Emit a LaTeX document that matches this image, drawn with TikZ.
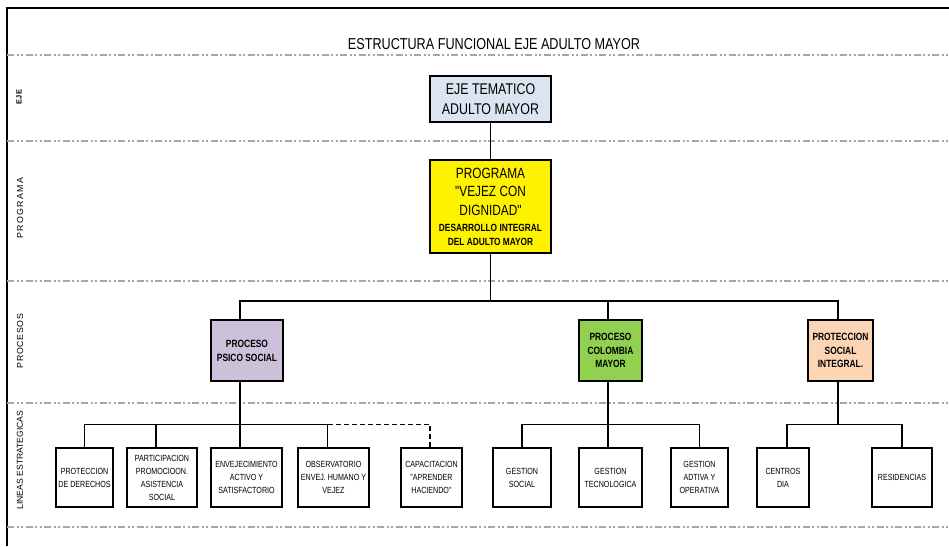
\documentclass[tikz,border=0pt]{standalone}
\usepackage{fontspec}
\setmainfont{Liberation Sans}
\newfontfamily\nar[FakeStretch=0.8]{Liberation Sans}
\newfontfamily\sideA[LetterSpace=15]{Liberation Sans}
\newfontfamily\sideB[LetterSpace=7]{Liberation Sans}
\newcommand\smallbold{\bfseries\fontsize{10.4}{13}\selectfont}
\definecolor{ejeblue}{HTML}{DBE5F1}
\definecolor{psico}{HTML}{CCC0DA}
\definecolor{colgreen}{HTML}{92D050}
\definecolor{peach}{HTML}{FCD5B4}
\definecolor{sepgray}{HTML}{A6A6A6}
\begin{document}
\begin{tikzpicture}[x=1pt,y=-1pt,
  frame/.style={line width=2.2pt},
  sepline/.style={draw=sepgray, line width=1.3pt, dash pattern=on 7pt off 2.5pt on 2pt off 2.5pt on 2pt off 2.5pt},
  box/.style={draw, line width=2.2pt, inner sep=0pt, align=center},
  bigbox/.style={box, line width=2.4pt},
  leaf/.style={box, minimum height=59pt, font=\nar\fontsize{8.9}{13}\selectfont},
  proc/.style={bigbox, minimum height=61pt, font=\nar\bfseries\fontsize{10.5}{13.8}\selectfont},
  conn/.style={line width=1.9pt},
  sidelabel/.style={rotate=90, inner sep=0pt}
]
\useasboundingbox (0,0) rectangle (949,546);
% frame
\draw[frame] (7,546) -- (7,8) -- (949,8);
% separators
\foreach \yy in {55,141,281,403,527} \draw[sepline] (7,\yy) -- (949,\yy);
% title
\node[font=\nar\fontsize{15.8}{17}\selectfont, inner sep=0pt] (title) at (494,44) {ESTRUCTURA FUNCIONAL EJE ADULTO MAYOR};
% side labels
\node[sidelabel, font=\bfseries\fontsize{7.5}{8}\selectfont] (lab1) at (19,97) {EJE};
\node[sidelabel, font=\sideA\fontsize{8.8}{9}\selectfont] (lab2) at (20,208) {PROGRAMA};
\node[sidelabel, font=\sideB\fontsize{8.8}{9}\selectfont] (lab3) at (20,341) {PROCESOS};
\node[sidelabel, font=\fontsize{8.6}{9}\selectfont] (lab4) at (20,460) {LINEAS ESTRATEGICAS};
% top boxes
\node[bigbox, fill=ejeblue, minimum width=121pt, minimum height=46pt, font=\nar\fontsize{15.5}{19.5}\selectfont] (eje) at (490.5,99) {EJE TEMATICO\\ADULTO MAYOR};
\node[bigbox, fill=yellow, minimum width=121pt, minimum height=93pt, font=\nar\fontsize{14.8}{18.5}\selectfont] (prog) at (490.5,206.5) {PROGRAMA\\ "VEJEZ CON\\ DIGNIDAD"\\[-2pt] \smallbold DESARROLLO INTEGRAL\\[-5pt] \smallbold DEL ADULTO MAYOR};
% process boxes
\node[proc, fill=psico, minimum width=72pt] (psico) at (247,350.5) {PROCESO\\PSICO SOCIAL};
\node[proc, fill=colgreen, minimum width=63pt] (col) at (610.5,350.5) {PROCESO\\COLOMBIA\\MAYOR};
\node[proc, fill=peach, minimum width=65pt] (prot) at (840.5,350.5) {PROTECCION\\SOCIAL\\INTEGRAL.};
% leaves
\node[leaf, minimum width=57pt] (l1) at (84.5,477.5) {PROTECCION\\DE DERECHOS};
\node[leaf, minimum width=70pt] (l2) at (162,477.5) {PARTICIPACION\\PROMOCIOON.\\ASISTENCIA\\SOCIAL};
\node[leaf, minimum width=71pt] (l3) at (246.5,477.5) {ENVEJECIMIENTO\\ACTIVO Y\\SATISFACTORIO};
\node[leaf, minimum width=71pt] (l4) at (333.5,477.5) {OBSERVATORIO\\ENVEJ. HUMANO Y\\VEJEZ};
\node[leaf, minimum width=61pt] (l5) at (431.5,477.5) {CAPACITACION\\"APRENDER\\HACIENDO"};
\node[leaf, minimum width=58pt] (g1) at (522,477.5) {GESTION\\SOCIAL};
\node[leaf, minimum width=63pt] (g2) at (610.5,477.5) {GESTION\\TECNOLOGICA};
\node[leaf, minimum width=57pt] (g3) at (699.5,477.5) {GESTION\\ADTIVA Y\\OPERATIVA};
\node[leaf, minimum width=52pt] (c1) at (783,477.5) {CENTROS\\DIA};
\node[leaf, minimum width=60pt] (c2) at (902,477.5) {RESIDENCIAS};
% bus coordinates
\coordinate (bus) at (490.5,301);
\coordinate (pbus) at (240,424.5);
\coordinate (cbus) at (608,424.5);
\coordinate (rbus) at (838,424.5);
% connectors
\draw[conn] (eje.south) -- (prog.north);
\draw[conn] (prog.south) -- (bus);
\draw[conn] ([xshift=-7pt]psico.north) |- (bus) -| ([xshift=-2.5pt]prot.north);
\draw[conn] ([xshift=-2.5pt]col.north) -- ([xshift=-2.5pt]col.north |- bus);
\draw[conn] ([xshift=-7pt]psico.south) -- (pbus);
\draw[conn] (l1.north) |- (pbus) -| ([xshift=-6pt]l4.north);
\draw[conn] ([xshift=-6pt]l2.north) -- ([xshift=-6pt]l2.north |- pbus);
\draw[conn] ([xshift=-6.5pt]l3.north) -- (pbus);
\draw[conn, dash pattern=on 5pt off 3pt] ([xshift=-6pt]l4.north |- pbus) -| ([xshift=-1.5pt]l5.north);
\draw[conn] ([xshift=-2.5pt]col.south) -- (cbus);
\draw[conn] (g1.north) |- (cbus) -| (g3.north);
\draw[conn] ([xshift=-2.5pt]g2.north) -- (cbus);
\draw[conn] ([xshift=-2.5pt]prot.south) -- (rbus);
\draw[conn] ([xshift=4pt]c1.north) |- (rbus) -| (c2.north);
\end{tikzpicture}
\end{document}
